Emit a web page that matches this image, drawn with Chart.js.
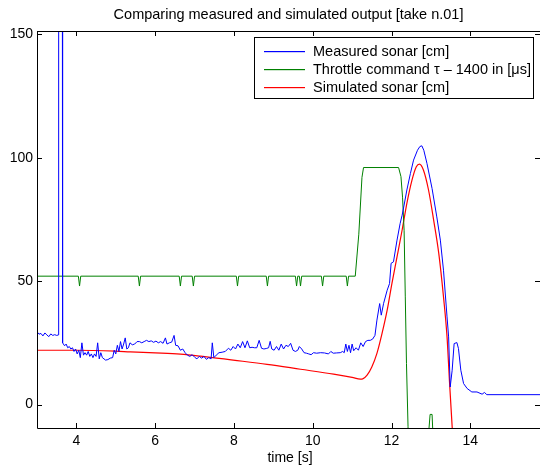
<!DOCTYPE html>
<html>
<head>
<meta charset="utf-8">
<script src="https://cdn.jsdelivr.net/npm/chart.js@4.4.0/dist/chart.umd.min.js"></script>
<style>
  html, body { margin: 0; padding: 0; background: #fff; overflow: hidden; }
  #wrap { width: 540px; height: 466px; }
</style>
</head>
<body>
<div id="wrap"><canvas id="chart" width="540" height="466"></canvas></div>
<script>
// measured sonar (blue)
const measuredT = [
  3.00, 3.05, 3.10, 3.15, 3.20, 3.25, 3.30, 3.35, 3.40, 3.45, 3.50, 3.545, 3.55, 3.635, 3.64,
  3.66, 3.70, 3.74, 3.78, 3.82, 3.86, 3.90, 3.94, 3.98, 4.02, 4.06, 4.10, 4.14, 4.18, 4.22,
  4.26, 4.30, 4.34, 4.38, 4.42, 4.46, 4.50, 4.54, 4.58, 4.62, 4.66, 4.70, 4.74, 4.80, 4.86,
  4.92, 4.96, 5.00, 5.04, 5.08, 5.12, 5.16, 5.20, 5.24, 5.28, 5.32, 5.36, 5.42, 5.48, 5.54,
  5.60, 5.66, 5.72, 5.78, 5.84, 5.90, 5.96, 6.02, 6.08, 6.14, 6.20, 6.26, 6.30, 6.36, 6.42,
  6.48, 6.52, 6.58, 6.64, 6.70, 6.76, 6.82, 6.88, 6.94, 7.00, 7.06, 7.12, 7.18, 7.24, 7.30,
  7.36, 7.42, 7.45, 7.49, 7.55, 7.62, 7.70, 7.78, 7.86, 7.92, 7.98, 8.04, 8.10, 8.16, 8.22,
  8.28, 8.34, 8.40, 8.46, 8.52, 8.58, 8.64, 8.70, 8.76, 8.82, 8.88, 8.92, 8.96, 9.02, 9.08,
  9.14, 9.20, 9.26, 9.32, 9.38, 9.44, 9.50, 9.56, 9.62, 9.66, 9.72, 9.78, 9.84, 9.90, 9.96,
  10.02, 10.10, 10.20, 10.30, 10.40, 10.46, 10.52, 10.60, 10.70, 10.76, 10.80, 10.84, 10.88, 10.92, 10.96,
  11.00, 11.04, 11.10, 11.16, 11.22, 11.28, 11.34, 11.40, 11.46, 11.52, 11.58, 11.63, 11.70, 11.74, 11.80,
  11.89, 11.95, 11.99, 12.05, 12.14, 12.22, 12.27, 12.32, 12.39, 12.48, 12.56, 12.66, 12.72, 12.77, 12.82,
  12.90, 13.03, 13.15, 13.24, 13.32, 13.41, 13.45, 13.49, 13.54, 13.59, 13.66, 13.70, 13.76, 13.83, 13.92,
  14.04, 14.17, 14.30, 14.36, 14.42, 15.77
];
const measuredCm = [
  29.5, 28.5, 28.8, 27.8, 29.0, 28.2, 27.5, 28.6, 28.0, 28.3, 28.0, 28.2, 400, 400, 26.0,
  25.0, 23.8, 24.5, 23.0, 23.5, 22.5, 23.0, 21.5, 22.5, 20.5, 22.0, 19.0, 25.0, 20.0, 21.0,
  20.0, 21.5, 19.5, 20.5, 19.0, 20.5, 19.5, 25.0, 18.5, 21.0, 19.0, 18.5, 18.0, 18.2, 18.8,
  19.0, 22.0, 20.5, 24.0, 21.5, 25.5, 22.5, 24.5, 27.0, 22.5, 23.0, 25.0, 24.2, 24.5, 25.5,
  25.5, 25.0, 25.5, 26.0, 25.5, 25.8, 25.2, 25.7, 25.0, 25.5, 24.8, 27.0, 24.5, 25.0, 25.3,
  28.0, 24.0, 23.8, 22.0, 22.5, 21.0, 20.0, 19.5, 20.2, 19.2, 18.5, 19.5, 18.8, 19.5, 18.3,
  19.0, 18.5, 25.0, 19.0, 20.0, 21.0, 21.2, 21.5, 22.8, 22.0, 23.5, 22.5, 24.5, 23.0, 25.5,
  23.0, 25.8, 23.0, 23.2, 23.0, 23.0, 26.0, 22.8, 22.5, 22.7, 23.0, 25.6, 22.5, 22.0, 23.5,
  22.0, 24.5, 22.5, 24.0, 23.5, 24.8, 22.0, 21.5, 22.0, 23.5, 22.5, 21.0, 20.8, 20.5, 20.2,
  21.0, 20.8, 21.0, 20.9, 20.5, 21.5, 20.8, 20.9, 21.0, 21.5, 21.0, 24.5, 21.5, 24.0, 21.0,
  24.5, 21.8, 23.0, 22.0, 25.0, 23.5, 25.5, 26.0, 26.0, 26.5, 28.0, 34.2, 40.9, 36.2, 41.0,
  46.3, 49.0, 57.2, 57.8, 66.6, 73.4, 76.7, 80.8, 86.9, 93.6, 99.0, 103.0, 104.5, 104.8, 103.0,
  97.7, 87.5, 76.0, 66.6, 54.4, 35.5, 27.4, 7.1, 13.9, 24.7, 25.1, 22.7, 13.9, 8.5, 6.5,
  5.1, 5.1, 4.2, 4.9, 4.0, 4.0
];

// throttle command minus 1400 (green)
const throttleT = [
  3.00, 4.05, 4.08, 4.11, 5.57, 5.60, 5.63, 6.61, 6.64, 6.67, 6.94, 6.97, 7.00,
  8.06, 8.09, 8.12, 8.82, 8.85, 8.88, 9.56, 9.59, 9.62, 9.66, 9.69, 9.72,
  10.22, 10.25, 10.28, 10.85, 10.88, 10.91, 11.08, 11.17, 11.25, 11.29,
  12.18, 12.24, 12.28, 12.32, 12.35, 12.38, 12.42, 12.46,
  12.90, 12.94, 12.98, 13.03, 13.06, 13.12, 15.77
];
const throttleUs = [
  52, 52, 48, 52, 52, 48, 52, 52, 48, 52, 52, 48, 52,
  52, 48, 52, 52, 48, 52, 52, 48, 52, 52, 48, 52,
  52, 48, 52, 52, 48, 52, 52, 69, 92, 96,
  96, 92.3, 84, 70.6, 43.6, 16.6, -9, -40,
  -40, -12, -4, -4, -15, -40, -40
];

// simulated sonar (red)
const simT = [
  3.0, 4.0, 5.0, 5.37, 6.0, 6.64, 7.15, 7.98, 8.84, 9.69, 10.53, 11.0, 11.21, 11.27,
  11.38, 11.5, 11.63, 11.76, 11.89, 12.01, 12.14, 12.27, 12.39, 12.52, 12.63, 12.71,
  12.81, 12.94, 13.07, 13.2, 13.32, 13.41, 13.47, 13.54, 13.62
];
const simCm = [
  22.0, 22.0, 21.6, 21.3, 20.9, 20.4, 19.6, 18.0, 16.3, 14.3, 12.3, 11.0, 10.3, 10.4,
  11.9, 15.2, 20.7, 28.8, 38.2, 49.0, 59.8, 70.7, 81.5, 90.9, 96.3, 97.4,
  95.0, 86.9, 74.7, 61.2, 43.6, 27.4, 9.9, -9.0, -30.0
];

const xTicks = [4, 6, 8, 10, 12, 14];
const yTicks = [0, 50, 100, 150];
const seriesNames = ['Measured sonar [cm]', 'Throttle command \u03C4 \u2013 1400 in [\u03BCs]', 'Simulated sonar [cm]'];
const seriesColors = ['#0000ff', '#008000', '#ff0000'];
const titleText = 'Comparing measured and simulated output [take n.01]';
const xLabel = 'time [s]';

const FONT = '"Liberation Sans", Arial, Helvetica, sans-serif';

function pairs(xs, ys) {
  return xs.map((x, i) => ({ x: x, y: ys[i] }));
}

// MATLAB-like frame: inward ticks, title, xlabel, boxed legend
const matlabFrame = {
  id: 'matlabFrame',
  afterDraw(chart) {
    const ctx = chart.ctx;
    const a = chart.chartArea;
    const xs = chart.scales.x, ys = chart.scales.y;
    ctx.save();
    ctx.strokeStyle = '#000';
    ctx.lineWidth = 1;
    ctx.beginPath();
    ctx.moveTo(a.left + 0.5, a.top + 0.5);
    ctx.lineTo(a.right, a.top + 0.5);
    ctx.moveTo(a.left + 0.5, a.top);
    ctx.lineTo(a.left + 0.5, a.bottom + 0.5);
    ctx.lineTo(a.right, a.bottom + 0.5);
    ctx.stroke();

    const tl = 5;
    ctx.beginPath();
    xTicks.forEach(v => {
      const px = Math.round(xs.getPixelForValue(v)) + 0.5;
      ctx.moveTo(px, a.bottom); ctx.lineTo(px, a.bottom - tl);
      ctx.moveTo(px, a.top); ctx.lineTo(px, a.top + tl);
    });
    yTicks.forEach(v => {
      const py = Math.round(ys.getPixelForValue(v)) + 0.5;
      ctx.moveTo(a.left, py); ctx.lineTo(a.left + tl, py);
      ctx.moveTo(a.right, py); ctx.lineTo(a.right - tl, py);
    });
    ctx.stroke();

    // title and x label
    ctx.fillStyle = '#000';
    ctx.textAlign = 'center';
    ctx.textBaseline = 'middle';
    ctx.font = '14.5px ' + FONT;
    ctx.fillText(titleText, (a.left + a.right) / 2, 15);
    ctx.font = '14px ' + FONT;
    ctx.fillText(xLabel, 290, 458);

    // legend box
    const box = { x: 254.5, y: 37.5, w: 279, h: 61 };
    ctx.fillStyle = '#fff';
    ctx.fillRect(box.x, box.y, box.w, box.h);
    ctx.strokeStyle = '#000';
    ctx.strokeRect(box.x, box.y, box.w, box.h);
    const rows = [51, 69, 87];
    ctx.font = '14.5px ' + FONT;
    seriesNames.forEach((name, i) => {
      ctx.fillStyle = seriesColors[i];
      ctx.fillRect(264, rows[i], 41, 1.2);
      ctx.fillStyle = '#000';
      ctx.textAlign = 'left';
      ctx.fillText(name, 313, rows[i] + 1);
    });
    ctx.restore();
  }
};

const ctx = document.getElementById('chart').getContext('2d');
new Chart(ctx, {
  type: 'line',
  data: {
    datasets: [
      {
        label: seriesNames[0],
        data: pairs(measuredT, measuredCm),
        borderColor: seriesColors[0],
        borderWidth: 1,
        pointRadius: 0,
        tension: 0,
      },
      {
        label: seriesNames[1],
        data: pairs(throttleT, throttleUs),
        borderColor: seriesColors[1],
        borderWidth: 1,
        pointRadius: 0,
        tension: 0,
      },
      {
        label: seriesNames[2],
        data: pairs(simT, simCm),
        borderColor: seriesColors[2],
        borderWidth: 1.2,
        pointRadius: 0,
        cubicInterpolationMode: 'monotone',
      },
    ],
  },
  options: {
    responsive: false,
    animation: false,
    devicePixelRatio: 1,
    layout: { padding: { top: 31, right: 0, bottom: 0, left: 0 } },
    plugins: {
      legend: { display: false },
      title: { display: false },
      tooltip: { enabled: false },
    },
    scales: {
      x: {
        type: 'linear',
        min: 3,
        max: 15.77,
        afterBuildTicks: (s) => { s.ticks = xTicks.map(v => ({ value: v })); },
        afterFit: (s) => { s.height = 38; },
        grid: { display: false, drawTicks: false },
        border: { display: false },
        ticks: { color: '#000', padding: 5, maxRotation: 0, font: { family: FONT, size: 14 } },
      },
      y: {
        type: 'linear',
        min: -9.5,
        max: 151.3,
        afterBuildTicks: (s) => { s.ticks = yTicks.map(v => ({ value: v })); },
        afterFit: (s) => { s.width = 37; },
        grid: { display: false, drawTicks: false },
        border: { display: false },
        ticks: { color: '#000', padding: 4, font: { family: FONT, size: 14 } },
      },
    },
  },
  plugins: [matlabFrame],
});
</script>
</body>
</html>
